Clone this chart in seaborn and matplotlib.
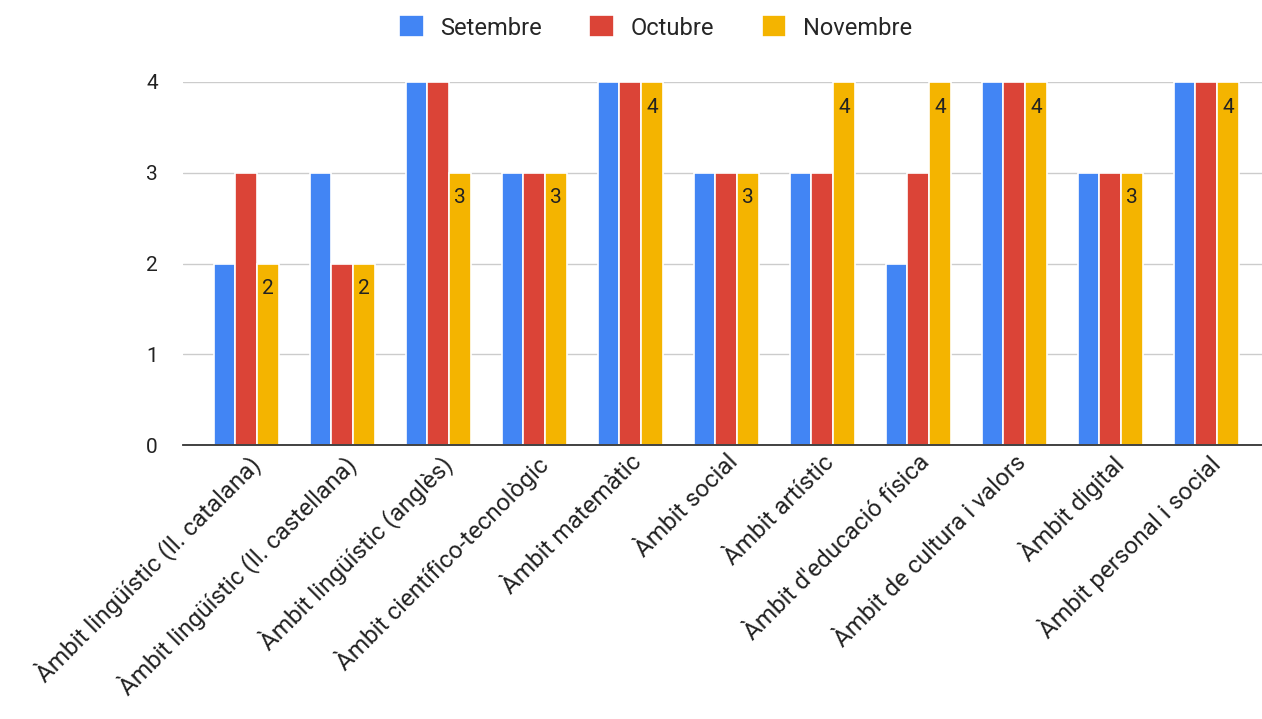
import pandas as pd
import seaborn as sns
import matplotlib.pyplot as plt

ambits = [
    'Àmbit lingüístic (ll. catalana)',
    'Àmbit lingüístic (ll. castellana)',
    'Àmbit lingüístic (anglès)',
    'Àmbit científico-tecnològic',
    'Àmbit matemàtic',
    'Àmbit social',
    'Àmbit artístic',
    "Àmbit d'educació física",
    'Àmbit de cultura i valors',
    'Àmbit digital',
    'Àmbit personal i social',
]
setembre = [2, 3, 4, 3, 4, 3, 3, 2, 4, 3, 4]
octubre = [3, 2, 4, 3, 4, 3, 3, 3, 4, 3, 4]
novembre = [2, 2, 3, 3, 4, 3, 4, 4, 4, 3, 4]
mesos = ['Setembre', 'Octubre', 'Novembre']
colors = ['#4285F4', '#DB4437', '#F4B400']

df = pd.DataFrame({'Àmbit': ambits, 'Setembre': setembre,
                   'Octubre': octubre, 'Novembre': novembre})
df_long = df.melt(id_vars='Àmbit', var_name='Mes', value_name='Valor')

sns.set_style('white')
plt.rcParams['font.family'] = ['Roboto', 'DejaVu Sans']

fig = plt.figure(figsize=(12.62, 7.19), dpi=100)
ax = fig.add_axes([0.145, 0.381, 0.855, 0.505])

sns.barplot(data=df_long, x='Àmbit', y='Valor', hue='Mes', hue_order=mesos,
            palette=colors, width=0.68, edgecolor='white', linewidth=1.2,
            saturation=1, ax=ax)

# labels only on the Novembre bars, inside the top
ax.bar_label(ax.containers[2], padding=-25, fontsize=15, color='#222222')

ax.set_ylim(0, 4)
ax.set_yticks([0, 1, 2, 3, 4])
ax.set_xlim(-0.66, 10.58)
ax.set_xlabel('')
ax.set_ylabel('')
ax.grid(axis='y', color='#cccccc', linewidth=1)
ax.set_axisbelow(True)
for s in ['top', 'right', 'left']:
    ax.spines[s].set_visible(False)
ax.spines['bottom'].set_color('#333333')
ax.spines['bottom'].set_linewidth(1.3)
ax.tick_params(axis='y', length=0, labelsize=15, colors='#222222', pad=18)
ax.tick_params(axis='x', length=0, labelsize=17.5, colors='#222222', pad=4)
plt.setp(ax.get_xticklabels(), rotation=45, ha='right', va='top',
         rotation_mode='anchor')

ax.legend(loc='center', bbox_to_anchor=(0.438, 1.15), ncol=3, frameon=False,
          fontsize=17, handlelength=1.05, handleheight=1.05, columnspacing=2.0,
          handletextpad=0.7, title='')

fig.savefig('out.png', dpi=100)
